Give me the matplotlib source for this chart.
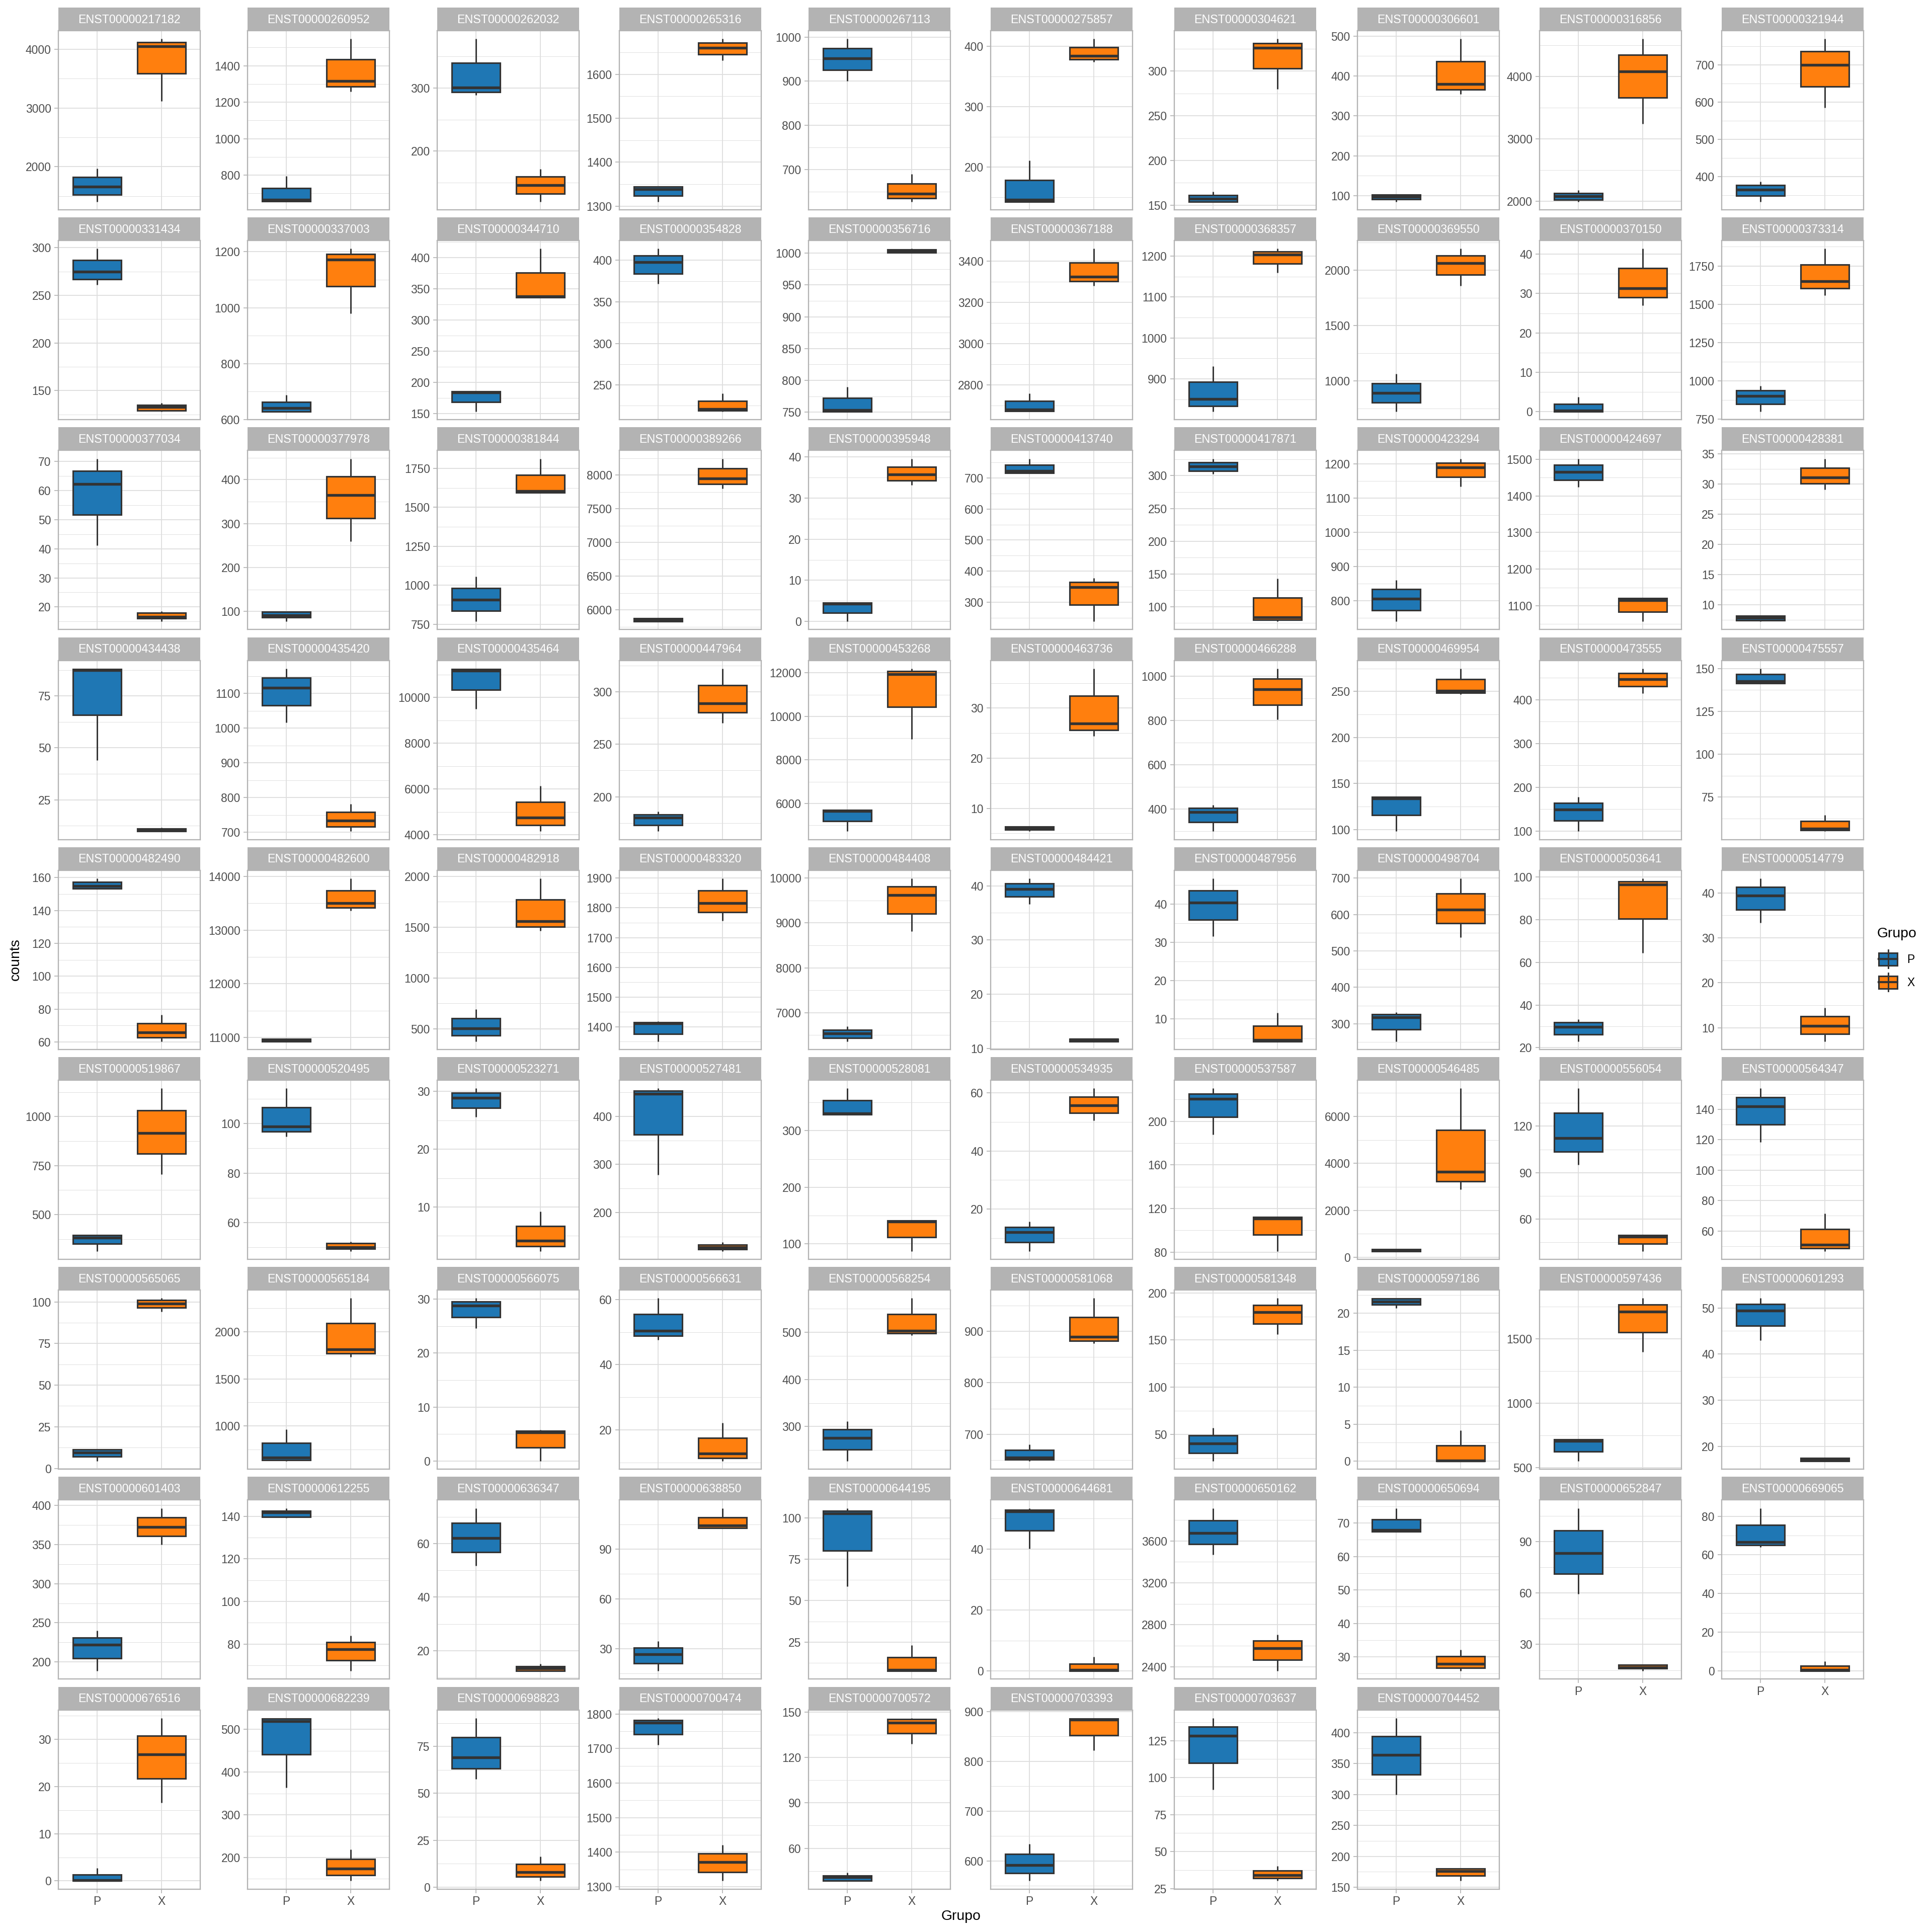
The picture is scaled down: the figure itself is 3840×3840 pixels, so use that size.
import numpy as np
import matplotlib
matplotlib.use("Agg")
import matplotlib.pyplot as plt
from matplotlib.patches import Rectangle
from matplotlib.lines import Line2D

plt.rcParams['font.family'] = ['Liberation Sans', 'DejaVu Sans']

## Data: boxplot stats (whislo, q1, median, q3, whishi)
groups = ["P", "X"]
group_colors = {"P": "#1F77B4", "X": "#FF7F0E"}

transcripts = [
    "ENST00000217182", "ENST00000260952", "ENST00000262032", "ENST00000265316", "ENST00000267113",
    "ENST00000275857", "ENST00000304621", "ENST00000306601", "ENST00000316856", "ENST00000321944",
    "ENST00000331434", "ENST00000337003", "ENST00000344710", "ENST00000354828", "ENST00000356716",
    "ENST00000367188", "ENST00000368357", "ENST00000369550", "ENST00000370150", "ENST00000373314",
    "ENST00000377034", "ENST00000377978", "ENST00000381844", "ENST00000389266", "ENST00000395948",
    "ENST00000413740", "ENST00000417871", "ENST00000423294", "ENST00000424697", "ENST00000428381",
    "ENST00000434438", "ENST00000435420", "ENST00000435464", "ENST00000447964", "ENST00000453268",
    "ENST00000463736", "ENST00000466288", "ENST00000469954", "ENST00000473555", "ENST00000475557",
    "ENST00000482490", "ENST00000482600", "ENST00000482918", "ENST00000483320", "ENST00000484408",
    "ENST00000484421", "ENST00000487956", "ENST00000498704", "ENST00000503641", "ENST00000514779",
    "ENST00000519867", "ENST00000520495", "ENST00000523271", "ENST00000527481", "ENST00000528081",
    "ENST00000534935", "ENST00000537587", "ENST00000546485", "ENST00000556054", "ENST00000564347",
    "ENST00000565065", "ENST00000565184", "ENST00000566075", "ENST00000566631", "ENST00000568254",
    "ENST00000581068", "ENST00000581348", "ENST00000597186", "ENST00000597436", "ENST00000601293",
    "ENST00000601403", "ENST00000612255", "ENST00000636347", "ENST00000638850", "ENST00000644195",
    "ENST00000644681", "ENST00000650162", "ENST00000650694", "ENST00000652847", "ENST00000669065",
    "ENST00000676516", "ENST00000682239", "ENST00000698823", "ENST00000700474", "ENST00000700572",
    "ENST00000703393", "ENST00000703637", "ENST00000704452",
]

p_stats = [
    (1405, 1524, 1658, 1823, 1972), (655, 657, 665, 730, 795), (289, 294, 301, 340, 378),
    (1310, 1324, 1338, 1344, 1345), (900, 926, 952, 974, 996), (143, 143, 146, 179, 211),
    (154, 154, 157, 161, 165), (85, 91, 97, 103, 103), (1997, 2029, 2088, 2131, 2182),
    (333, 349, 365, 377, 387),
    (261, 267, 275, 287, 299), (628, 628, 640, 662, 688), (153, 168, 184, 185, 186),
    (372, 384, 398, 406, 414), (751, 751, 753, 772, 790), (2670, 2672, 2679, 2721, 2759),
    (820, 834, 851, 892, 931), (723, 803, 890, 977, 1063), (0, 0, 0.3, 1.9, 3.7),
    (800, 849, 902, 937, 969),
    (41.1, 51.7, 62.2, 66.7, 71), (77, 86, 91, 99, 100), (768, 836, 906, 981, 1055),
    (5830, 5830, 5852, 5877, 5884), (0, 2.1, 4.3, 4.55, 4.6), (714, 716, 723, 742, 762),
    (303, 307, 314, 320, 326), (740, 773, 806, 834, 861), (1424, 1444, 1466, 1485, 1502),
    (7.2, 7.4, 7.8, 8.1, 8.2),
    (44.1, 65.8, 87.5, 88, 88.2), (1016, 1066, 1117, 1145, 1172), (9509, 10337, 11179, 11238, 11267),
    (167, 173, 180, 183, 186), (4714, 5176, 5653, 5692, 5715), (5.4, 5.7, 6.0, 6.3, 6.3),
    (299, 341, 386, 404, 419), (98, 116, 134, 135.5, 136), (99, 124, 149, 164, 178),
    (141, 141.3, 142.7, 146.6, 150),
    (153, 153.4, 155, 157.5, 159.5), (10928, 10928, 10953, 10972, 10978), (376, 434, 503, 603, 693),
    (1351, 1376, 1411, 1415, 1418), (6362, 6433, 6537, 6619, 6694), (36.6, 38, 39.4, 40.4, 41.35),
    (31.6, 35.9, 40.4, 43.6, 46.7), (252, 284, 318, 326, 332), (23, 26.3, 29.8, 31.8, 33.3),
    (33.3, 36.3, 39.4, 41.3, 43.2),
    (313, 350, 381, 394, 397), (94.7, 96.8, 98.9, 106.6, 114.2), (25.6, 27.2, 28.9, 29.8, 30.55),
    (279, 362, 447, 453, 458.5), (328, 329, 331, 353.5, 375), (5.45, 8.6, 12, 13.8, 15.7),
    (187.7, 204.1, 220.6, 225.4, 230.3), (264, 264, 306, 356, 356), (95.2, 103.6, 112.3, 128.4, 144.4),
    (118.3, 130.1, 142, 147.9, 153.75),
    (4.4, 7.2, 9.5, 11.5, 11.7), (629, 642, 665, 819, 966), (24.6, 26.6, 28.8, 29.5, 30.15),
    (47.7, 48.9, 50.4, 55.5, 60.4), (227, 251, 276, 293.6, 311), (648.2, 651.5, 655.4, 669.4, 680.8),
    (21.8, 30.6, 40.4, 48.9, 57), (20.7, 21.2, 21.6, 21.98, 22.05), (549.5, 625.2, 706, 716.6, 723),
    (42.95, 46.1, 49.45, 50.8, 52.1),
    (188.5, 204.9, 222, 231, 240), (139.3, 139.8, 141.8, 142.6, 143.8), (51.7, 56.9, 62.1, 67.7, 73.25),
    (16.5, 21.2, 26.5, 30.5, 34.4), (58.5, 80.3, 102.7, 104.4, 105.9), (40.2, 46.1, 52.3, 52.9, 53.4),
    (3471, 3570, 3675, 3794, 3912), (67.35, 67.45, 67.85, 71.1, 74.45), (59.6, 71.3, 83.3, 96.6, 109.5),
    (64.1, 65.1, 66.5, 75.5, 84.15),
    (0, 0, 0.1, 1.35, 2.66), (364, 441.6, 518.8, 524.7, 526.7), (57.6, 63.2, 69.2, 79.9, 90.2),
    (1710.5, 1740.5, 1774.3, 1781.6, 1788), (38.4, 38.7, 41, 42, 43.7), (560, 576, 592, 613.7, 633.7),
    (92, 110.1, 128.4, 134.6, 140.3), (300, 332.2, 364.2, 394.6, 423.8),
]

x_stats = [
    (3120, 3587, 4054, 4125, 4180), (1258, 1285, 1317, 1434, 1547), (120, 133, 146, 160, 172),
    (1632, 1646, 1661, 1672, 1681), (627, 635, 645, 668, 690), (374, 378, 384, 398, 412),
    (280, 303, 326, 331, 336), (355, 366, 380, 437, 493), (3248, 3663, 4080, 4345, 4605),
    (585, 642, 700, 736, 770),
    (128, 129, 133, 135, 137), (980, 1076, 1172, 1192, 1211), (336, 336, 338, 376, 414),
    (218, 219, 221, 231, 240), (1000, 1001, 1003, 1006, 1007), (3282, 3302, 3324, 3393, 3461),
    (1160, 1181, 1204, 1211, 1218), (1862, 1958, 2064, 2132, 2195), (27, 29.1, 31.4, 36.5, 41.4),
    (1557, 1603, 1650, 1758, 1862),
    (15, 16, 16.6, 18, 18.5), (260, 312, 365, 407, 448), (1596, 1596, 1604, 1708, 1812),
    (7800, 7866, 7948, 8096, 8242), (33.2, 34.3, 35.7, 37.6, 39.6), (238, 292, 349, 365, 377),
    (77.5, 80, 84, 114, 143), (1135, 1162, 1191, 1204, 1216), (1057, 1084, 1115, 1120, 1122),
    (29.1, 30.05, 31.1, 32.7, 34.2),
    (9.8, 9.8, 10.4, 11.2, 11.5), (703, 717, 734, 759, 782), (4147, 4425, 4747, 5443, 6139),
    (270, 280, 289, 306, 322), (8950, 10431, 11938, 12085, 12200), (24.4, 25.6, 26.9, 32.5, 37.9),
    (803, 871, 940, 988, 1034), (247, 248.4, 251, 263.5, 275), (414, 430, 447, 460, 471),
    (55, 55.7, 56.7, 61, 64.4),
    (60.4, 62.6, 65.7, 71.3, 76.6), (13358, 13420, 13507, 13740, 13963), (1462, 1503, 1558, 1771, 1980),
    (1757, 1785, 1816, 1858, 1899), (8812, 9203, 9620, 9810, 9993), (11.3, 11.3, 11.6, 11.75, 11.75),
    (4.2, 4.2, 4.5, 8.2, 11.7), (538, 576, 613, 657, 699), (64.5, 80.4, 96.6, 98, 99.4),
    (7, 8.6, 10.4, 12.5, 14.5),
    (706, 811, 916, 1031, 1144), (48.5, 49.5, 50, 51.8, 52.4), (2.35, 3.2, 4.2, 6.7, 9.25),
    (119.5, 123, 128, 133.4, 138), (87, 112, 139, 141, 141), (50.6, 53.2, 55.8, 58.7, 61.6),
    (80.8, 95.8, 110.9, 111.9, 112.7), (2887, 3243, 3635, 5416, 7197), (39.3, 44, 48.6, 49.7, 49.9),
    (46.7, 48.7, 50.9, 61.3, 71.4),
    (94.2, 96.5, 99, 101, 102.2), (1732, 1768, 1812, 2087, 2353), (0, 2.5, 5.3, 5.6, 5.74),
    (10.4, 11.4, 12.7, 17.5, 22.1), (493.6, 497, 503, 538, 571.6), (876.6, 881.8, 889, 927, 964),
    (156.3, 167.3, 179.4, 187.2, 194.3), (0, 0, 0.07, 2.1, 4.14), (1399.6, 1553.5, 1713.9, 1768.6, 1816.8),
    (16.8, 16.8, 17.2, 17.5, 17.56),
    (350, 360.7, 372.5, 384.8, 396.4), (67.4, 72.4, 77.6, 80.9, 84), (12.4, 12.4, 13.4, 14.1, 15.1),
    (102.4, 102.6, 104.2, 109.2, 114.7), (7.5, 7.5, 8.2, 15.8, 23), (0, 0, 0.44, 2.36, 4.6),
    (2360, 2467, 2579, 2647, 2706), (25.75, 26.75, 27.85, 30.1, 32.1), (14.5, 15.9, 16.7, 18.1, 18.3),
    (0, 0, 0.7, 2.7, 5.1),
    (16.6, 21.7, 26.8, 30.7, 34.5), (145, 158, 173.7, 196.5, 218.8), (3.3, 5.5, 8, 12.3, 16.3),
    (1317, 1343, 1371, 1396, 1421), (129.2, 136.2, 143, 145.2, 146.1), (821.7, 852.4, 883, 885.7, 886.7),
    (30.2, 32.2, 34.2, 37.3, 40.2), (160.3, 169.1, 175.9, 180.5, 180.5),
]

# spacing of the y breaks in each panel
tick_step = [
    1000, 200, 100, 100, 100, 100, 50, 100, 1000, 100,
    50, 200, 50, 50, 50, 200, 100, 500, 10, 250,
    10, 100, 250, 500, 10, 100, 50, 100, 100, 5,
    25, 100, 2000, 50, 2000, 10, 200, 50, 100, 25,
    20, 1000, 500, 100, 1000, 10, 10, 100, 20, 10,
    250, 20, 10, 100, 100, 20, 40, 2000, 30, 20,
    25, 500, 10, 20, 100, 100, 50, 5, 500, 10,
    50, 20, 20, 30, 25, 20, 400, 10, 30, 20,
    10, 100, 25, 100, 30, 100, 25, 50,
]

## Layout (pixels on a 3840 x 3840 canvas)
W = H = 3840
NCOL = 10
col_left = [116, 492, 869, 1231, 1607, 1969, 2334, 2698, 3060, 3422]
PW = 282
STRIP_H = 46
PH = 356
ROW0 = 15
ROW_PITCH = 417.2

EDGE = '#333333'
GRID = '#DEDEDE'
BORDER = '#B3B3B3'
TXT = '#4D4D4D'


def frac(x, y, w, h):
    return [x / W, 1 - (y + h) / H, w / W, h / H]


def fmt(v):
    if abs(v) < 1e-9:
        v = 0
    return '%g' % v


fig = plt.figure(figsize=(12.8, 12.8), dpi=300)
bg = fig.add_axes([0, 0, 1, 1])
bg.set_xlim(0, W)
bg.set_ylim(H, 0)
bg.axis('off')

n = len(transcripts)
for i, name in enumerate(transcripts):
    r, c = divmod(i, NCOL)
    x0 = col_left[c]
    top = ROW0 + r * ROW_PITCH

    # strip
    bg.add_patch(Rectangle((x0, top), PW, STRIP_H, facecolor=BORDER, edgecolor='none'))
    bg.text(x0 + PW / 2, top + STRIP_H / 2 + 1, name, color='white',
            ha='center', va='center', fontsize=5.6)

    ax = fig.add_axes(frac(x0, top + STRIP_H, PW, PH))
    stats = []
    for g, s in zip(groups, (p_stats[i], x_stats[i])):
        lo, q1, med, q3, hi = s
        stats.append(dict(whislo=lo, q1=q1, med=med, q3=q3, whishi=hi, fliers=[], label=g))
    bp = ax.bxp(stats, positions=[1, 2], widths=0.75, patch_artist=True, showcaps=False,
                boxprops=dict(edgecolor=EDGE, linewidth=0.75),
                whiskerprops=dict(color=EDGE, linewidth=0.7, solid_capstyle='butt'),
                medianprops=dict(color=EDGE, linewidth=1.3, solid_capstyle='butt'))
    for patch, g in zip(bp['boxes'], groups):
        patch.set_facecolor(group_colors[g])

    lo = min(p_stats[i][0], x_stats[i][0])
    hi = max(p_stats[i][4], x_stats[i][4])
    pad = (hi - lo) * 0.05
    ymin, ymax = lo - pad, hi + pad
    ax.set_ylim(ymin, ymax)
    ax.set_xlim(0.4, 2.6)

    step = tick_step[i]
    majors = np.arange(np.ceil(ymin / step) * step, ymax + 1e-9, step)
    half = step / 2
    minors = [v for v in np.arange(np.ceil(ymin / half) * half, ymax + 1e-9, half)
              if abs(v / step - round(v / step)) > 1e-6]
    ax.set_yticks(majors)
    ax.set_yticks(minors, minor=True)
    ax.set_yticklabels([fmt(v) for v in majors])

    ax.set_axisbelow(True)
    ax.grid(True, which='major', color=GRID, linewidth=0.45)
    ax.grid(True, which='minor', axis='y', color=GRID, linewidth=0.22)
    ax.tick_params(which='minor', length=0)
    ax.tick_params(axis='y', which='major', length=1.85, width=0.4, color=BORDER,
                   pad=1.6, labelsize=5.5, labelcolor=TXT)

    ax.set_xticks([1, 2])
    if i + NCOL >= n:
        ax.set_xticklabels(groups)
        ax.tick_params(axis='x', length=1.85, width=0.4, color=BORDER, pad=1.4,
                       labelsize=5.5, labelcolor=TXT)
    else:
        ax.set_xticklabels([])
        ax.tick_params(axis='x', length=0)

    for sp in ax.spines.values():
        sp.set_color(BORDER)
        sp.set_linewidth(0.55)
    ax.set_xlabel('')
    ax.set_ylabel('')

## Axis titles
bg.text(1910, 3809, 'Grupo', ha='center', va='center', fontsize=6.8, color='black')
bg.text(31, 1907, 'counts', ha='center', va='center', rotation=90, fontsize=6.8, color='black')

## Legend
bg.text(3731, 1856, 'Grupo', ha='left', va='center', fontsize=6.8, color='black')
for k, g in enumerate(groups):
    yc = 1906 + k * 46
    bg.add_line(Line2D([3752.5, 3752.5], [yc - 18, yc + 18], color=EDGE, linewidth=0.7))
    bg.add_patch(Rectangle((3734, yc - 12.5), 37, 25, facecolor=group_colors[g],
                           edgecolor=EDGE, linewidth=0.75))
    bg.add_line(Line2D([3734, 3771], [yc, yc], color=EDGE, linewidth=1.0))
    bg.text(3790, yc + 1, g, ha='left', va='center', fontsize=5.5, color='black')

fig.savefig('out.png', dpi=300)
